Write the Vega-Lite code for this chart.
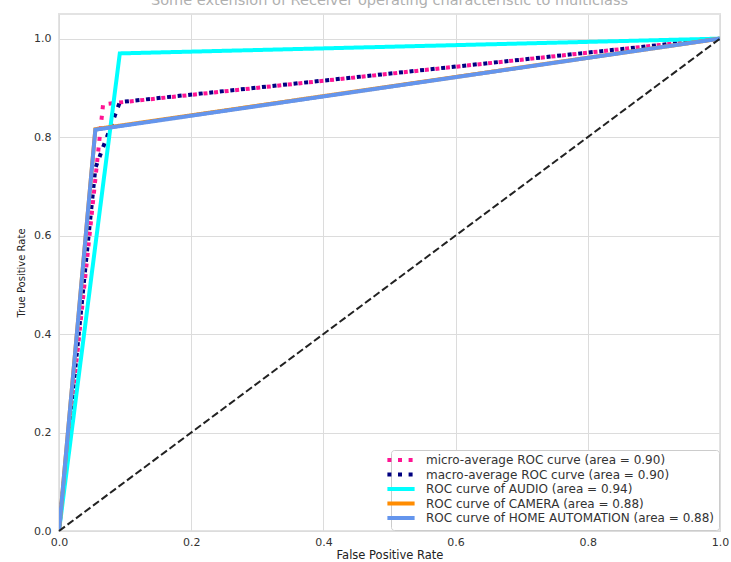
{
  "$schema": "https://vega.github.io/schema/vega-lite/v6.json",
  "width": 661,
  "height": 517,
  "autosize": {"type": "none"},
  "padding": {"left": 59, "top": 14, "right": 11, "bottom": 31},
  "background": "white",
  "title": {
    "text": "Some extension of Receiver operating characteristic to multiclass",
    "fontSize": 14.5,
    "font": "DejaVu Sans",
    "fontWeight": "normal",
    "color": "#b0b0b0",
    "offset": 6
  },
  "config": {
    "font": "DejaVu Sans",
    "view": {"stroke": "#e3e3e3", "strokeWidth": 2},
    "axis": {
      "domain": false,
      "ticks": false,
      "tickSize": 0,
      "grid": true,
      "gridColor": "#dcdcdc",
      "gridWidth": 1,
      "labelFlush": false,
      "labelFont": "DejaVu Sans",
      "labelFontSize": 11,
      "labelColor": "#333333",
      "titleFont": "DejaVu Sans",
      "titleFontSize": 10,
      "titleFontWeight": "normal",
      "titleColor": "#222222"
    }
  },
  "datasets": {
    "roc": [
      {"series": "micro-average ROC curve (area = 0.90)", "fpr": 0.0, "tpr": 0.0},
      {"series": "micro-average ROC curve (area = 0.90)", "fpr": 0.0667, "tpr": 0.8667},
      {"series": "micro-average ROC curve (area = 0.90)", "fpr": 1.0, "tpr": 1.0},
      {"series": "macro-average ROC curve (area = 0.90)", "fpr": 0.0, "tpr": 0.0},
      {"series": "macro-average ROC curve (area = 0.90)", "fpr": 0.055, "tpr": 0.737},
      {"series": "macro-average ROC curve (area = 0.90)", "fpr": 0.092, "tpr": 0.871},
      {"series": "macro-average ROC curve (area = 0.90)", "fpr": 1.0, "tpr": 1.0},
      {"series": "ROC curve of AUDIO (area = 0.94)", "fpr": 0.0, "tpr": 0.0},
      {"series": "ROC curve of AUDIO (area = 0.94)", "fpr": 0.092, "tpr": 0.97},
      {"series": "ROC curve of AUDIO (area = 0.94)", "fpr": 1.0, "tpr": 1.0},
      {"series": "ROC curve of CAMERA (area = 0.88)", "fpr": 0.0, "tpr": 0.0},
      {"series": "ROC curve of CAMERA (area = 0.88)", "fpr": 0.055, "tpr": 0.816},
      {"series": "ROC curve of CAMERA (area = 0.88)", "fpr": 1.0, "tpr": 1.0},
      {"series": "ROC curve of HOME AUTOMATION (area = 0.88)", "fpr": 0.0, "tpr": 0.0},
      {"series": "ROC curve of HOME AUTOMATION (area = 0.88)", "fpr": 0.055, "tpr": 0.815},
      {"series": "ROC curve of HOME AUTOMATION (area = 0.88)", "fpr": 1.0, "tpr": 1.0}
    ],
    "diag": [
      {"fpr": 0.0, "tpr": 0.0},
      {"fpr": 1.0, "tpr": 1.0}
    ]
  },
  "layer": [
    {
      "data": {"name": "roc"},
      "transform": [{"filter": "datum.series == 'micro-average ROC curve (area = 0.90)'"}],
      "mark": {"type": "line", "strokeCap": "butt", "clip": true},
      "encoding": {
        "x": {
          "field": "fpr", "type": "quantitative",
          "scale": {"domain": [0, 1], "nice": false, "zero": false},
          "axis": {"values": [0, 0.2, 0.4, 0.6, 0.8, 1.0], "format": ".1f", "title": "False Positive Rate", "titleFontSize": 11.5, "labelPadding": 5, "titlePadding": 2}
        },
        "y": {
          "field": "tpr", "type": "quantitative",
          "scale": {"domain": [0, 1.05], "nice": false, "zero": false},
          "axis": {"values": [0, 0.2, 0.4, 0.6, 0.8, 1.0], "format": ".1f", "title": "True Positive Rate", "labelPadding": 8, "titlePadding": 7}
        },
        "color": {
          "field": "series", "type": "nominal",
          "scale": {
            "domain": ["micro-average ROC curve (area = 0.90)", "macro-average ROC curve (area = 0.90)", "ROC curve of AUDIO (area = 0.94)", "ROC curve of CAMERA (area = 0.88)", "ROC curve of HOME AUTOMATION (area = 0.88)"],
            "range": ["deeppink", "navy", "aqua", "darkorange", "cornflowerblue"]
          },
          "legend": {
            "title": null,
            "orient": "bottom-right",
            "offset": 1,
            "fillColor": "white",
            "strokeColor": "#cccccc",
            "cornerRadius": 3,
            "padding": 4,
            "symbolType": "M-3.4,0H3.4",
            "symbolSize": 64,
            "labelFontSize": 12,
            "labelFont": "DejaVu Sans",
            "labelColor": "#333333",
            "labelLimit": 400,
            "labelOffset": 19,
            "rowPadding": -1.5,
            "symbolOpacity": 1
          }
        },
        "strokeDash": {
          "field": "series", "type": "nominal",
          "scale": {
            "domain": ["micro-average ROC curve (area = 0.90)", "macro-average ROC curve (area = 0.90)", "ROC curve of AUDIO (area = 0.94)", "ROC curve of CAMERA (area = 0.88)", "ROC curve of HOME AUTOMATION (area = 0.88)"],
            "range": [[4, 6.6], [4, 6.6], [1, 0], [1, 0], [1, 0]]
          },
          "legend": null
        },
        "strokeWidth": {
          "field": "series", "type": "nominal",
          "scale": {
            "domain": ["micro-average ROC curve (area = 0.90)", "macro-average ROC curve (area = 0.90)", "ROC curve of AUDIO (area = 0.94)", "ROC curve of CAMERA (area = 0.88)", "ROC curve of HOME AUTOMATION (area = 0.88)"],
            "range": [4, 4, 2, 2, 2]
          },
          "legend": null
        }
      }
    },
    {
      "data": {"name": "roc"},
      "transform": [{"filter": "datum.series == 'macro-average ROC curve (area = 0.90)'"}],
      "mark": {"type": "line", "strokeCap": "butt", "clip": true, "strokeDashOffset": 5},
      "encoding": {
        "x": {"field": "fpr", "type": "quantitative"},
        "y": {"field": "tpr", "type": "quantitative"},
        "color": {"field": "series", "type": "nominal"},
        "strokeDash": {"field": "series", "type": "nominal"},
        "strokeWidth": {"field": "series", "type": "nominal"}
      }
    },
    {
      "data": {"name": "roc"},
      "transform": [{"filter": "datum.series != 'micro-average ROC curve (area = 0.90)' && datum.series != 'macro-average ROC curve (area = 0.90)'"}],
      "mark": {"type": "line", "strokeCap": "butt", "clip": true},
      "encoding": {
        "x": {"field": "fpr", "type": "quantitative"},
        "y": {"field": "tpr", "type": "quantitative"},
        "color": {"field": "series", "type": "nominal"},
        "strokeDash": {"field": "series", "type": "nominal"},
        "strokeWidth": {"field": "series", "type": "nominal"}
      }
    },
    {
      "data": {"name": "diag"},
      "mark": {"type": "line", "color": "#222222", "strokeWidth": 2, "strokeDash": [7.4, 3.2]},
      "encoding": {
        "x": {"field": "fpr", "type": "quantitative"},
        "y": {"field": "tpr", "type": "quantitative"}
      }
    }
  ]
}
